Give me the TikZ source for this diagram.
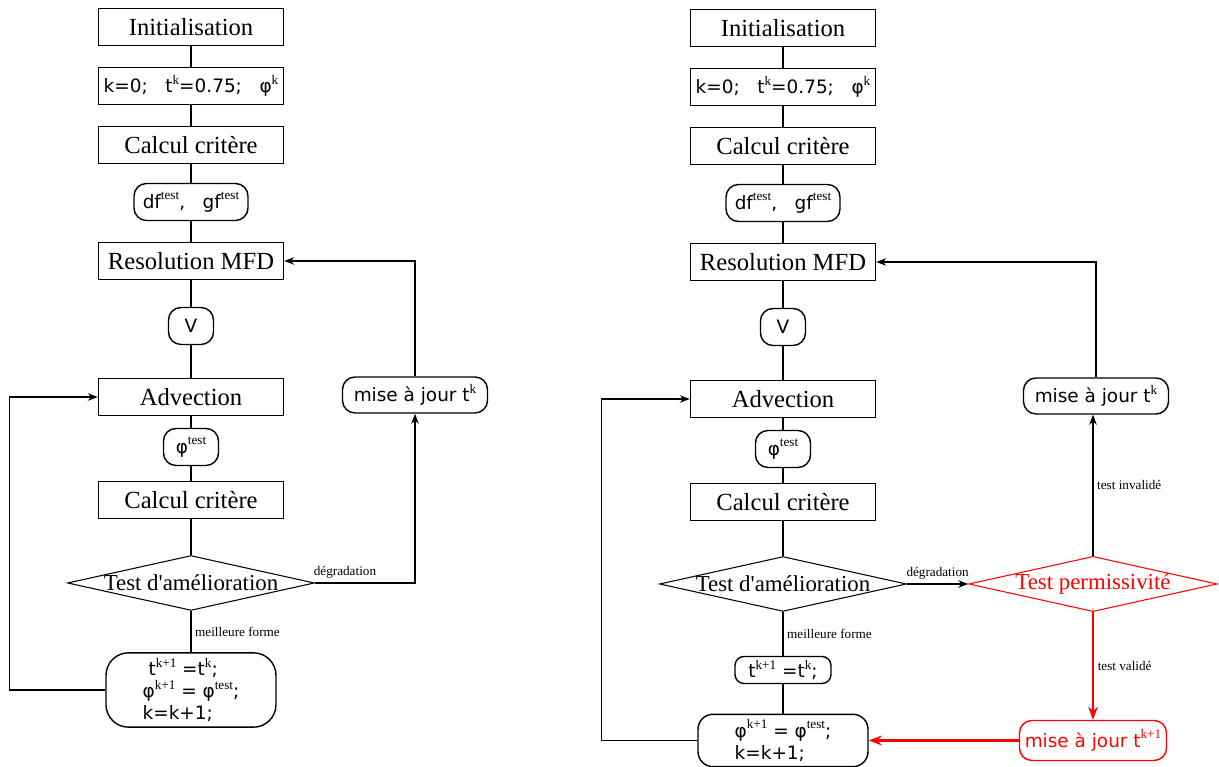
\documentclass[tikz,border=0pt]{standalone}
\usepackage{fontspec}
\setmainfont{Liberation Serif}
\setsansfont{DejaVu Sans}
\usetikzlibrary{shapes.geometric, arrows.meta, positioning}
\newcommand{\exposant}[1]{\raisebox{0.85ex}{\rmfamily\fontsize{7.5}{8}\selectfont #1}}

\begin{document}
\begin{tikzpicture}[
    boite/.style={rectangle, draw, line width=0.8pt, minimum width=3.7cm, minimum height=0.74cm, inner sep=2pt, font=\fontsize{14}{16}\selectfont},
    donnee/.style={rectangle, rounded corners=0.25cm, draw, line width=0.8pt, minimum height=0.74cm, inner sep=3pt, font=\sffamily\fontsize{10.5}{13}\selectfont},
    test/.style={diamond, draw, line width=0.6pt, aspect=4.5, inner sep=0pt, font=\fontsize{13}{15}\selectfont},
    lien/.style={line width=0.8pt},
    fleche/.style={-{Stealth[length=2mm]}, line width=0.8pt},
    flecherouge/.style={-{Stealth[length=2.6mm]}, draw=red, line width=1.4pt},
    etiq/.style={font=\fontsize{7.5}{9}\selectfont, inner sep=2pt}
]
\useasboundingbox (0,0) rectangle (24.38,15.34);

% Gauche : algorithme initial
\node[boite] (initA) at (3.82, 14.80) {Initialisation};
\node[boite, font=\sffamily\fontsize{10.5}{13}\selectfont] (kA) at (3.82, 13.62) {k=0;~~ t\exposant{k}=0.75;~~ φ\exposant{k}};
\node[boite] (critA) at (3.82, 12.44) {Calcul critère};
\node[donnee, minimum width=2.28cm] (dfA) at (3.82, 11.30) {df\exposant{test},~~ gf\exposant{test}};
\node[boite] (mfdA) at (3.82, 10.12) {Resolution MFD};
\node[donnee, minimum width=0.9cm] (vA) at (3.82, 8.82) {V};
\node[boite] (advA) at (3.82, 7.40) {Advection};
\node[donnee, minimum width=1.1cm] (phiA) at (3.82, 6.40) {φ\exposant{test}};
\node[boite] (crit2A) at (3.82, 5.34) {Calcul critère};
\node[test] (testA) at (3.82, 3.68) {Test d\textquotesingle amélioration};
\node[donnee, rounded corners=0.45cm, minimum width=3.4cm, minimum height=1.42cm, align=left, font=\sffamily\fontsize{10.5}{12.5}\selectfont] (majA) at (3.82, 1.54) {~t\exposant{k+1} =t\exposant{k};\\φ\exposant{k+1} = φ\exposant{test};\\k=k+1;};
\node[donnee, minimum width=2.9cm, minimum height=0.72cm] (majtA) at (8.30, 7.44) {mise à jour t\exposant{k}};

\draw[lien] (initA) -- (kA) -- (critA) -- (dfA) -- (mfdA) -- (vA) -- (advA) -- (phiA) -- (crit2A) -- (testA);
\draw[lien] (testA) -- node[etiq, right] {meilleure forme} (majA);
\draw[fleche] (majA.west) -- ++(-1.92,0) |- (advA.west);
\draw[fleche] (testA.east) -| node[etiq, above, pos=0.15] {dégradation} (majtA.south);
\draw[fleche] (majtA.north) |- (mfdA.east);

% Droite : algorithme avec test de permissivite
\node[boite] (initB) at (15.66, 14.78) {Initialisation};
\node[boite, font=\sffamily\fontsize{10.5}{13}\selectfont] (kB) at (15.66, 13.60) {k=0;~~ t\exposant{k}=0.75;~~ φ\exposant{k}};
\node[boite] (critB) at (15.66, 12.42) {Calcul critère};
\node[donnee, minimum width=2.28cm] (dfB) at (15.66, 11.28) {df\exposant{test},~~ gf\exposant{test}};
\node[boite] (mfdB) at (15.66, 10.10) {Resolution MFD};
\node[donnee, minimum width=0.9cm] (vB) at (15.66, 8.80) {V};
\node[boite] (advB) at (15.66, 7.36) {Advection};
\node[donnee, minimum width=1.1cm] (phiB) at (15.66, 6.36) {φ\exposant{test}};
\node[boite] (crit2B) at (15.66, 5.30) {Calcul critère};
\node[test] (testB) at (15.66, 3.66) {Test d\textquotesingle amélioration};
\node[donnee, rounded corners=0.18cm, minimum width=1.92cm, minimum height=0.54cm, inner sep=1pt] (tB) at (15.66, 1.94) {t\exposant{k+1} =t\exposant{k};};
\node[donnee, rounded corners=0.3cm, minimum width=3.4cm, minimum height=1.02cm, align=left, font=\sffamily\fontsize{10.5}{12.5}\selectfont] (majB) at (15.66, 0.53) {φ\exposant{k+1} = φ\exposant{test};\\k=k+1;};
\node[test, draw=red, text=red] (permB) at (21.86, 3.66) {Test permissivité};
\node[donnee, minimum width=2.9cm, minimum height=0.72cm] (majtB) at (21.92, 7.42) {mise à jour t\exposant{k}};
\node[donnee, draw=red, text=red, minimum width=2.94cm, minimum height=0.8cm] (majnB) at (21.86, 0.53) {mise à jour t\exposant{k+1}};

\draw[lien] (initB) -- (kB) -- (critB) -- (dfB) -- (mfdB) -- (vB) -- (advB) -- (phiB) -- (crit2B) -- (testB);
\draw[lien] (testB) -- node[etiq, right] {meilleure forme} (tB);
\draw[lien] (tB) -- (majB);
\draw[fleche] (majB.west) -- ++(-1.92,0) |- (advB.west);
\draw[fleche] (testB.east) -- node[etiq, above] {dégradation} (permB.west);
\draw[fleche] (permB.north) -- node[etiq, right] {test invalidé} (permB.north |- majtB.south);
\draw[fleche] (majtB.north) |- (mfdB.east);
\draw[flecherouge] (permB.south) -- node[etiq, right, text=black] {test validé} (majnB.north);
\draw[flecherouge] (majnB.west) -- (majB.east);

\end{tikzpicture}
\end{document}
